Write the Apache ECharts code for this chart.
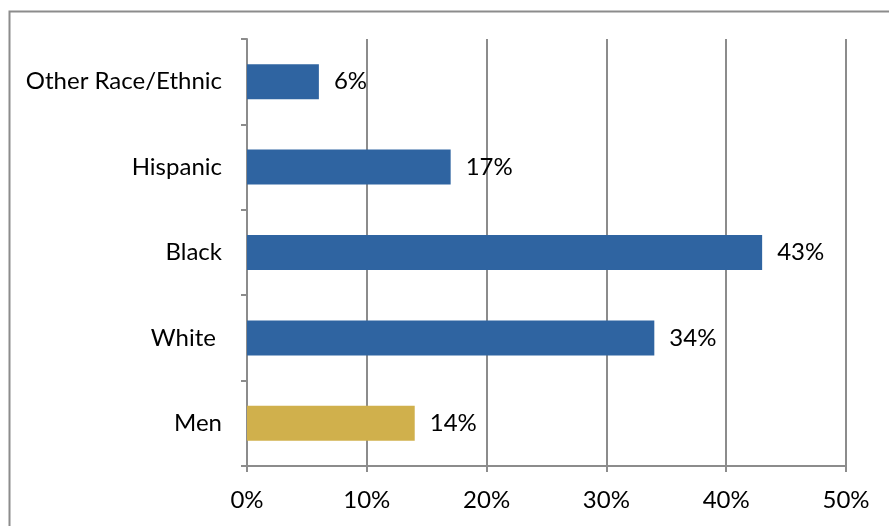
<!DOCTYPE html>
<html>
<head>
<meta charset="utf-8">
<script src="https://cdn.jsdelivr.net/npm/echarts@6/dist/echarts.min.js"></script>
<style>
  html, body { margin: 0; padding: 0; background: #fff; }
  #chart { width: 889px; height: 526px; }
</style>
</head>
<body>
<div id="chart"></div>
<script>
// Share by group, bottom to top
const categories = ['Men', 'White ', 'Black', 'Hispanic', 'Other Race/Ethnic'];
const values = [14, 34, 43, 17, 6];
const barColors = ['#D0B04C', '#2F64A1', '#2F64A1', '#2F64A1', '#2F64A1'];
const xTicks = { min: 0, max: 50, interval: 10 };

const FONT = 'Lato';
const FONT_SIZE = 24;
const GRAY = '#8C8C8C';

const chart = echarts.init(document.getElementById('chart'), null, { renderer: 'canvas' });

chart.setOption({
  animation: false,
  backgroundColor: '#ffffff',
  textStyle: { fontFamily: FONT },
  graphic: [{
    type: 'rect',
    left: 7, top: 9,
    shape: { width: 1000, height: 1000 },
    style: { fill: 'none', stroke: GRAY, lineWidth: 2 },
    silent: true
  }],
  grid: { left: 247, right: 43, top: 39, bottom: 60 },
  xAxis: {
    type: 'value',
    min: xTicks.min, max: xTicks.max, interval: xTicks.interval,
    axisLine: { show: true, lineStyle: { color: GRAY, width: 2 } },
    axisTick: { show: true, length: 6, lineStyle: { color: GRAY, width: 2 } },
    splitLine: { show: true, lineStyle: { color: GRAY, width: 2 } },
    axisLabel: { color: '#000', fontSize: FONT_SIZE, fontFamily: FONT, margin: 22, formatter: v => v + '%' }
  },
  yAxis: {
    type: 'category',
    data: categories,
    axisLine: { show: true, lineStyle: { color: GRAY, width: 2 } },
    axisTick: { show: true, length: 6, alignWithLabel: false, lineStyle: { color: GRAY, width: 2 } },
    axisLabel: { color: '#000', fontSize: FONT_SIZE, fontFamily: FONT, margin: 25 }
  },
  series: [{
    type: 'bar',
    barWidth: 35,
    data: values.map((v, i) => ({ value: v, itemStyle: { color: barColors[i] } })),
    label: {
      show: true, position: 'right', distance: 15,
      color: '#000', fontSize: FONT_SIZE, fontFamily: FONT,
      formatter: p => p.value + '%'
    }
  }]
});
</script>
</body>
</html>
